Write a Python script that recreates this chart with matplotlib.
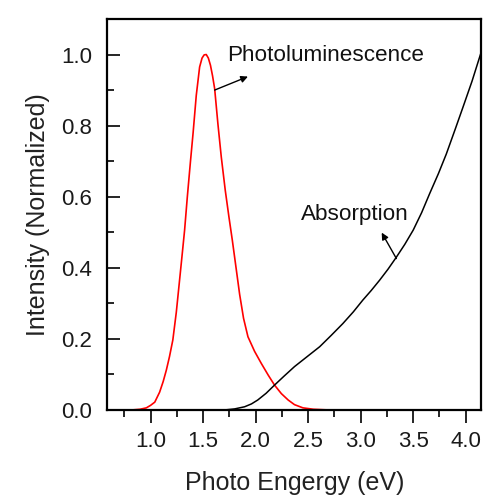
import matplotlib.pyplot as plt
from matplotlib.ticker import MultipleLocator

plt.rcParams['font.family'] = ['Liberation Sans', 'DejaVu Sans']

## photoluminescence (red)
pl_x = [0.82, 0.90, 0.96, 1.00, 1.04, 1.086, 1.12, 1.15, 1.18, 1.212, 1.245, 1.276,
        1.30, 1.324, 1.35, 1.38, 1.405, 1.435, 1.467, 1.49, 1.51, 1.53, 1.55, 1.57,
        1.59, 1.61, 1.641, 1.673, 1.711, 1.746, 1.778, 1.80, 1.848, 1.885, 1.927,
        1.99, 2.054, 2.12, 2.18, 2.245, 2.31, 2.37, 2.45, 2.55, 2.70, 3.02]
pl_y = [0.0, 0.002, 0.006, 0.013, 0.022, 0.050, 0.080, 0.112, 0.150, 0.197, 0.275, 0.365,
        0.435, 0.506, 0.600, 0.700, 0.780, 0.885, 0.965, 0.990, 0.999, 1.0, 0.990, 0.970,
        0.940, 0.904, 0.805, 0.712, 0.618, 0.543, 0.478, 0.430, 0.325, 0.258, 0.206,
        0.165, 0.131, 0.098, 0.070, 0.046, 0.028, 0.015, 0.006, 0.002, 0.0, 0.0]

## absorption (black)
ab_x = [1.70, 1.736, 1.80, 1.895, 1.96, 2.02, 2.10, 2.18, 2.27, 2.37, 2.49, 2.61, 2.72,
        2.83, 2.93, 3.02, 3.10, 3.18, 3.26, 3.34, 3.42, 3.50, 3.58, 3.657, 3.74, 3.815,
        3.90, 3.974, 4.06, 4.14]
ab_y = [0.0, 0.001, 0.003, 0.009, 0.017, 0.028, 0.047, 0.070, 0.095, 0.122, 0.150, 0.178,
        0.210, 0.243, 0.276, 0.309, 0.336, 0.365, 0.396, 0.430, 0.466, 0.506, 0.555, 0.609,
        0.665, 0.720, 0.790, 0.852, 0.925, 1.0]

fig = plt.figure(figsize=(4.84, 4.97), dpi=100)
ax = fig.add_axes([0.2221, 0.1751, 0.7727, 0.7867])

ax.plot(pl_x, pl_y, color='#ff0000', linewidth=1.2)
ax.plot(ab_x, ab_y, color='black', linewidth=1.1)

ax.set_xlim(0.59, 4.15)
ax.set_ylim(0, 1.1)

ax.xaxis.set_minor_locator(MultipleLocator(0.25))
ax.yaxis.set_minor_locator(MultipleLocator(0.1))
ax.set_xticks([1.0, 1.5, 2.0, 2.5, 3.0, 3.5, 4.0])
ax.set_yticks([0.0, 0.2, 0.4, 0.6, 0.8, 1.0])

ax.tick_params(axis='x', which='major', direction='out', length=9, width=1.2, pad=6,
               labelsize=16, labelcolor='#1a1a1a')
ax.tick_params(axis='x', which='minor', direction='out', length=5, width=1.2)
ax.tick_params(axis='y', which='major', direction='in', length=9, width=1.2, pad=11,
               labelsize=16, labelcolor='#1a1a1a')
ax.tick_params(axis='y', which='minor', direction='in', length=5, width=1.2)

for s in ax.spines.values():
    s.set_linewidth(1.6)

ax.set_xlabel('Photo Engergy (eV)', fontsize=18, color='#222222', labelpad=14)
ax.set_ylabel('Intensity (Normalized)', fontsize=18, color='#222222', labelpad=8)

arrow = dict(arrowstyle='-|>', color='black', lw=1.0, mutation_scale=10, shrinkA=0, shrinkB=0)
ax.annotate('', xy=(1.927, 0.938), xytext=(1.61, 0.90), arrowprops=arrow)
ax.text(1.724, 0.997, 'Photoluminescence', fontsize=16.2, ha='left', va='center', color='#111111')
ax.annotate('', xy=(3.20, 0.499), xytext=(3.34, 0.426), arrowprops=arrow)
ax.text(2.435, 0.55, 'Absorption', fontsize=16.2, ha='left', va='center', color='#111111')

fig.savefig('out.png', dpi=100)
